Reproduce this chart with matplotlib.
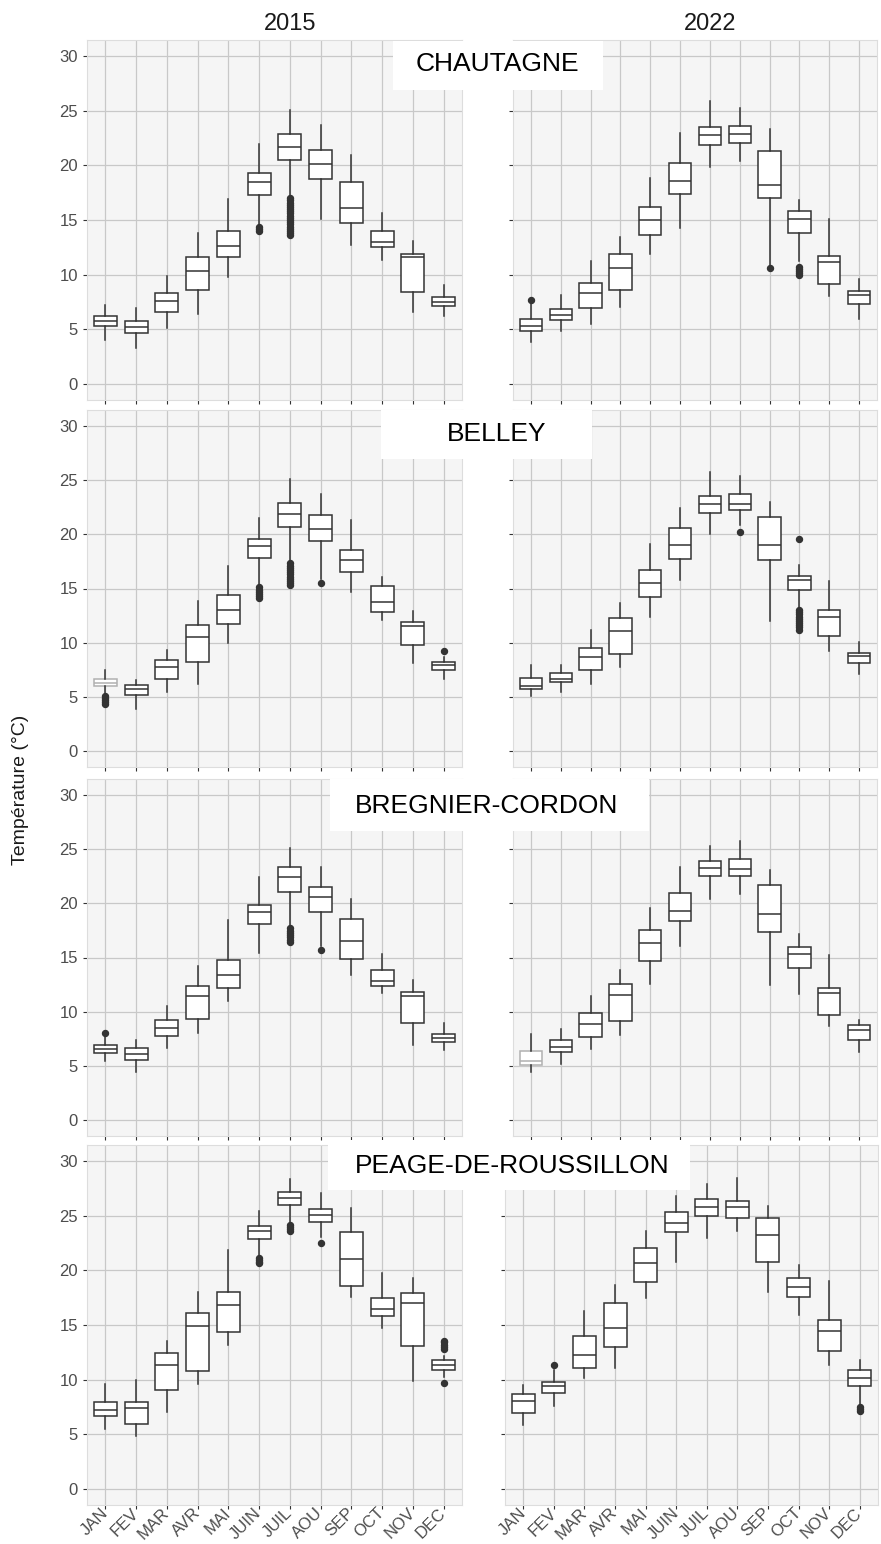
import matplotlib.pyplot as plt
from matplotlib.patches import Rectangle

plt.rcParams["font.family"] = ["Liberation Sans", "DejaVu Sans"]

# -----------------------------
# Data
# -----------------------------
months = ["JAN", "FEV", "MAR", "AVR", "MAI", "JUIN", "JUIL", "AOU", "SEP", "OCT", "NOV", "DEC"]
years = ["2015", "2022"]
stations = ["CHAUTAGNE", "BELLEY", "BREGNIER-CORDON", "PEAGE-DE-ROUSSILLON"]

# each row: [whisker low, q1, median, q3, whisker high]
chautagne_2015 = [
    [4.0, 5.3, 5.7, 6.2, 7.2], [3.3, 4.6, 5.2, 5.7, 6.9], [5.1, 6.6, 7.55, 8.3, 9.9],
    [6.4, 8.55, 10.3, 11.6, 13.8], [9.8, 11.6, 12.6, 14.0, 16.9], [14.5, 17.3, 18.5, 19.3, 22.0],
    [17.1, 20.5, 21.7, 22.85, 25.05], [15.1, 18.75, 20.1, 21.45, 23.7], [12.7, 14.7, 16.1, 18.5, 21.0],
    [11.3, 12.5, 12.95, 14.0, 15.6], [6.6, 8.4, 11.6, 11.9, 13.05], [6.2, 7.1, 7.5, 7.95, 9.05],
]
chautagne_2015_out = [
    [], [], [], [], [], [14.0, 14.2, 14.35],
    [13.6, 13.8, 14.0, 14.2, 14.4, 14.6, 14.8, 15.0, 15.2, 15.4, 15.6, 15.8, 16.0, 16.2, 16.4, 16.6, 16.8, 17.0],
    [], [], [], [], [],
]
chautagne_2022 = [
    [3.8, 4.85, 5.3, 5.95, 7.35], [4.85, 5.85, 6.25, 6.8, 8.1], [5.45, 6.9, 8.3, 9.2, 11.2],
    [7.0, 8.6, 10.6, 11.9, 13.4], [11.85, 13.65, 15.0, 16.2, 18.85], [14.3, 17.4, 18.55, 20.2, 23.0],
    [19.85, 21.85, 22.8, 23.55, 25.9], [20.4, 22.1, 22.85, 23.6, 25.3], [10.9, 17.05, 18.25, 21.3, 23.3],
    [11.2, 13.8, 15.1, 15.8, 16.8], [8.0, 9.1, 11.15, 11.7, 15.1], [5.95, 7.3, 8.1, 8.45, 9.6],
]
chautagne_2022_out = [
    [7.7], [], [], [], [], [], [], [], [10.6],
    [9.95, 10.1, 10.3, 10.5, 10.7], [], [],
]
belley_2015 = [
    [5.3, 6.0, 6.3, 6.6, 7.45], [3.9, 5.15, 5.7, 6.05, 6.5], [5.45, 6.65, 7.7, 8.35, 9.3],
    [6.2, 8.25, 10.55, 11.6, 13.8], [10.0, 11.75, 13.0, 14.4, 17.05], [15.3, 17.8, 18.95, 19.55, 21.55],
    [17.6, 20.7, 21.9, 22.9, 25.1], [15.9, 19.35, 20.5, 21.75, 23.7], [14.65, 16.5, 17.6, 18.6, 21.3],
    [12.1, 12.85, 13.75, 15.2, 16.1], [8.15, 9.8, 11.5, 11.9, 12.95], [6.6, 7.45, 7.9, 8.2, 8.7],
]
belley_2015_out = [
    [4.35, 4.5, 4.7, 4.9, 5.1], [], [], [], [], [14.1, 14.3, 14.5, 14.7, 14.9, 15.1],
    [15.3, 15.5, 15.7, 15.9, 16.1, 16.3, 16.5, 16.7, 16.9, 17.1, 17.35],
    [15.5], [], [], [], [9.2],
]
belley_2022 = [
    [5.1, 5.7, 6.0, 6.7, 7.9], [5.4, 6.4, 6.65, 7.15, 7.9], [6.2, 7.5, 8.65, 9.5, 11.2],
    [7.7, 8.95, 11.05, 12.3, 13.7], [12.35, 14.2, 15.55, 16.7, 19.15], [15.75, 17.75, 19.0, 20.55, 22.45],
    [20.0, 22.0, 22.8, 23.55, 25.75], [20.9, 22.3, 22.85, 23.7, 25.4], [12.0, 17.6, 19.0, 21.6, 23.0],
    [13.2, 14.9, 15.75, 16.15, 17.15], [9.2, 10.6, 12.35, 13.0, 15.7], [7.1, 8.15, 8.75, 9.05, 10.05],
]
belley_2022_out = [
    [], [], [], [], [], [], [], [20.2], [],
    [19.6, 11.2, 11.4, 11.6, 11.8, 12.0, 12.2, 12.4, 12.6, 12.8, 13.0], [], [],
]
bregnier_2015 = [
    [5.4, 6.2, 6.55, 6.95, 7.75], [4.45, 5.5, 6.1, 6.65, 7.4], [6.6, 7.7, 8.5, 9.2, 10.5],
    [8.0, 9.35, 11.45, 12.35, 14.2], [10.95, 12.2, 13.4, 14.75, 18.45], [15.45, 18.1, 19.25, 19.85, 22.45],
    [17.9, 21.1, 22.4, 23.35, 25.1], [16.1, 19.2, 20.6, 21.5, 23.4], [13.35, 14.9, 16.5, 18.55, 20.4],
    [11.7, 12.35, 12.8, 13.8, 15.35], [6.95, 8.9, 11.4, 11.85, 12.9], [6.45, 7.2, 7.6, 7.95, 8.9],
]
bregnier_2015_out = [
    [8.05], [], [], [], [], [], [16.45, 16.65, 16.85, 17.05, 17.25, 17.45, 17.7],
    [15.7], [], [], [], [],
]
bregnier_2022 = [
    [4.4, 5.1, 5.45, 6.35, 7.9], [5.2, 6.25, 6.75, 7.4, 8.35], [6.5, 7.65, 8.85, 9.85, 11.45],
    [7.8, 9.1, 11.55, 12.55, 13.8], [12.55, 14.65, 16.35, 17.5, 19.6], [16.05, 18.35, 19.3, 21.0, 23.35],
    [20.4, 22.5, 23.25, 23.95, 25.35], [20.85, 22.5, 23.2, 24.1, 25.75], [12.45, 17.4, 19.0, 21.7, 23.05],
    [11.65, 14.05, 15.35, 15.95, 17.2], [8.7, 9.7, 11.7, 12.15, 15.25], [6.3, 7.4, 8.3, 8.75, 9.2],
]
bregnier_2022_out = [[], [], [], [], [], [], [], [], [], [], [], []]
peage_2015 = [
    [5.5, 6.65, 7.2, 7.9, 9.6], [4.8, 5.95, 7.35, 7.95, 10.0], [7.0, 9.0, 11.3, 12.4, 13.5],
    [9.6, 10.75, 14.95, 16.1, 18.05], [13.2, 14.35, 16.8, 18.05, 21.9], [21.4, 22.9, 23.6, 24.05, 25.45],
    [24.4, 26.0, 26.65, 27.15, 28.4], [23.1, 24.45, 25.1, 25.65, 27.1], [17.6, 18.6, 21.05, 23.5, 25.7],
    [14.7, 15.8, 16.5, 17.45, 19.75], [9.85, 13.05, 17.05, 17.9, 19.3], [10.2, 10.9, 11.35, 11.75, 12.2],
]
peage_2015_out = [
    [], [], [], [], [], [20.65, 20.8, 20.95, 21.1], [23.65, 23.8, 24.0, 24.2],
    [22.55], [], [], [], [9.65, 12.8, 13.0, 13.2, 13.4, 13.55],
]
peage_2022 = [
    [5.8, 6.95, 8.0, 8.7, 9.5], [7.6, 8.8, 9.4, 9.8, 10.9], [10.1, 11.1, 12.25, 13.95, 16.25],
    [11.1, 13.0, 14.75, 17.05, 18.7], [17.5, 18.9, 20.65, 22.05, 23.6], [20.75, 23.5, 24.35, 25.4, 26.8],
    [22.95, 24.95, 25.85, 26.55, 27.9], [23.6, 24.8, 25.85, 26.4, 28.5], [18.05, 20.75, 23.25, 24.8, 25.9],
    [15.9, 17.55, 18.5, 19.3, 20.5], [11.35, 12.6, 14.45, 15.5, 19.05], [7.7, 9.4, 10.1, 10.85, 11.8],
]
peage_2022_out = [
    [], [11.35], [], [], [], [], [], [], [], [], [], [7.1, 7.3, 7.5],
]

panels = [
    [(chautagne_2015, chautagne_2015_out), (chautagne_2022, chautagne_2022_out)],
    [(belley_2015, belley_2015_out), (belley_2022, belley_2022_out)],
    [(bregnier_2015, bregnier_2015_out), (bregnier_2022, bregnier_2022_out)],
    [(peage_2015, peage_2015_out), (peage_2022, peage_2022_out)],
]
# boxes drawn in a pale grey in the original (row, column, month index)
pale_boxes = [(1, 0, 0), (2, 1, 0)]

# -----------------------------
# Layout (pixels of the 881x1544 picture)
# -----------------------------
W, H = 881, 1544
row_px = [(40, 400), (410, 767), (779, 1136), (1145, 1505)]
left_px = (87, 462)
right_px = [(513, 877), (513, 877), (513, 877), (505, 878)]
label_boxes = [(393, 603, 41, 90), (381, 592, 410, 459), (330, 649, 779, 831), (328, 690, 1140, 1190)]
label_centres = [(497, 64), (497, 434), (487, 806), (512, 1166)]

DARK = "#333333"


def fig_rect(x0, x1, y0, y1):
    return [x0 / W, 1 - y1 / H, (x1 - x0) / W, (y1 - y0) / H]


fig = plt.figure(figsize=(W / 100, H / 100), dpi=100)

for r in range(4):
    for c in range(2):
        xs = left_px if c == 0 else right_px[r]
        ax = fig.add_axes(fig_rect(xs[0], xs[1], row_px[r][0], row_px[r][1]))
        data, out = panels[r][c]
        stats = []
        for m in range(12):
            lo, q1, med, q3, hi = data[m]
            stats.append({"whislo": lo, "q1": q1, "med": med, "q3": q3,
                          "whishi": hi, "fliers": out[m]})
        res = ax.bxp(
            stats, positions=range(1, 13), widths=0.75, showcaps=False,
            patch_artist=True,
            boxprops=dict(facecolor="white", edgecolor=DARK, linewidth=1.1),
            whiskerprops=dict(color=DARK, linewidth=1.1),
            medianprops=dict(color=DARK, linewidth=1.1),
            flierprops=dict(marker="o", markerfacecolor=DARK, markeredgecolor=DARK,
                            markersize=4.3, linestyle="none"),
        )
        for (pr, pc, pm) in pale_boxes:
            if pr == r and pc == c:
                res["boxes"][pm].set_edgecolor("#b0b0b0")
                res["medians"][pm].set_color("#b0b0b0")

        ax.set_xlim(0.4, 12.6)
        ax.set_ylim(-1.5, 31.5)
        ax.set_yticks(range(0, 31, 5))
        ax.set_xticks(range(1, 13))
        ax.set_facecolor("#f5f5f5")
        ax.set_axisbelow(True)
        ax.grid(True, color="#c8c8c8", linewidth=0.9)
        for s in ax.spines.values():
            s.set_color("#dddddd")
            s.set_linewidth(0.8)
        ax.tick_params(colors=DARK, length=3, width=0.8, labelcolor="#4d4d4d", labelsize=12)
        if c == 1:
            ax.set_yticklabels([])
        if r == 3:
            ax.tick_params(axis="x", pad=1)
            ax.set_xticklabels(months, rotation=45, ha="right", va="center",
                               rotation_mode="anchor", fontsize=12)
        else:
            ax.set_xticklabels([])

# station labels in white boxes
for r in range(4):
    x0, x1, y0, y1 = label_boxes[r]
    fig.add_artist(Rectangle((x0 / W, 1 - y1 / H), (x1 - x0) / W, (y1 - y0) / H,
                             transform=fig.transFigure, facecolor="white",
                             edgecolor="none", zorder=2))
    cx, cy = label_centres[r]
    fig.text(cx / W, 1 - cy / H, stations[r], fontsize=19, color="black",
             ha="center", va="center", zorder=3)

# column titles
fig.text(290 / W, 1 - 24 / H, years[0], fontsize=17, ha="center", va="center", color="#1a1a1a")
fig.text(710 / W, 1 - 24 / H, years[1], fontsize=17, ha="center", va="center", color="#1a1a1a")

# y label
fig.text(21 / W, 1 - 790 / H, "Température (°C)", fontsize=14, rotation=90,
         ha="center", va="center", color="#1a1a1a")

fig.savefig("out.png", dpi=100)
